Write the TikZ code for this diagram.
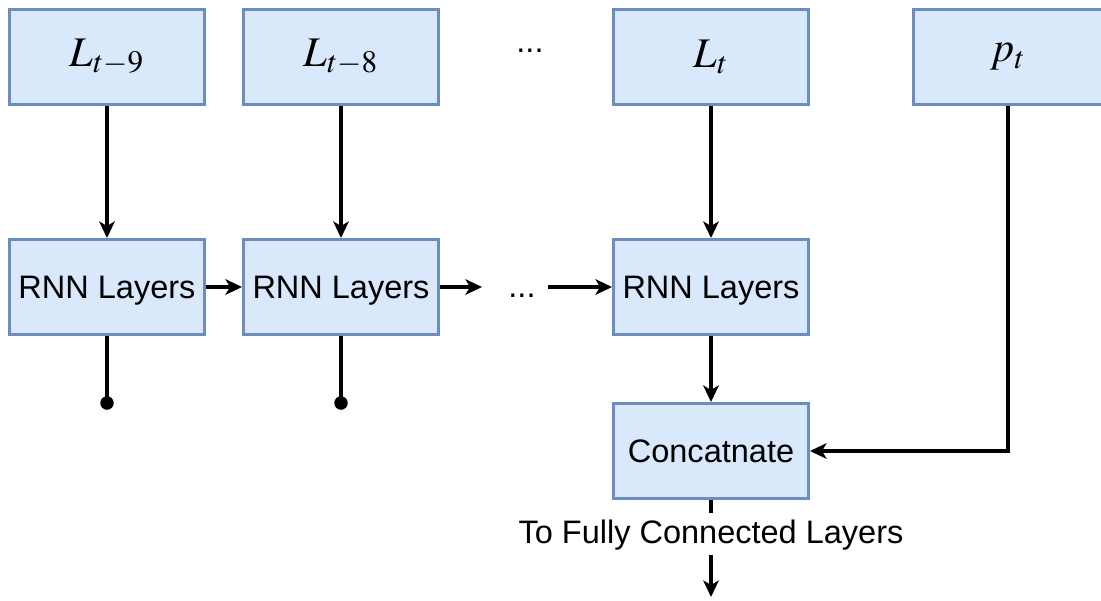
\documentclass[tikz,border=0pt]{standalone}
\usepackage{mathptmx}
\usepackage[no-math]{fontspec}
\setmainfont{Liberation Sans}
\usetikzlibrary{arrows.meta}

\definecolor{boxfill}{HTML}{DAE8FC}
\definecolor{boxline}{HTML}{6C8EBF}

\tikzset{
  block/.style={draw=boxline, fill=boxfill, line width=1.7pt,
    minimum width=3.9cm, minimum height=1.9cm, inner sep=0pt,
    text height=13pt, text depth=0pt,
    font=\fontsize{18.5}{22}\selectfont},
  mathblock/.style={block, text height=, text depth=, font=\fontsize{24}{28}\selectfont},
  conn/.style={line width=1.8pt, -{Stealth[length=0.33cm, width=0.31cm, inset=0.09cm]}},
  plain/.style={line width=1.8pt},
  tapdot/.style={circle, fill=black, inner sep=0pt, minimum size=0.27cm},
  txt/.style={font=\fontsize{18.5}{22}\selectfont, inner sep=0pt}
}

\begin{document}
\begin{tikzpicture}[x=0.02cm, y=-0.02cm]
  \useasboundingbox (0,0) rectangle (1101,600);

  % input sequence
  \node[mathblock] (L9) at (107,57) {$L_{t-9}$};
  \node[mathblock] (L8) at (341,57) {$L_{t-8}$};
  \node[txt, anchor=base] (topdots) at (530,52) {...};
  \node[mathblock] (L0) at (711,57) {$L_t$};
  \node[mathblock, minimum width=3.8cm] (P) at (1008,57) {$p_t$};

  % recurrent layers
  \node[block] (R9) at (107,287) {RNN Layers};
  \node[block] (R8) at (341,287) {RNN Layers};
  \node[txt, anchor=base] (middots) at (522,297) {...};
  \node[block] (R0) at (711,287) {RNN Layers};

  \coordinate (gapL) at (482,287);
  \coordinate (gapR) at (548,287);

  % unused outputs
  \node[tapdot] (D9) at (107,403) {};
  \node[tapdot] (D8) at (341,403) {};

  % merge
  \node[block] (C) at (711,451) {Concatnate};
  \node[txt, anchor=base, text height=0.6cm, text depth=0.24cm] (lbl) at (711,543) {To Fully Connected Layers};
  \coordinate (out) at (711,597);

  % connectors
  \draw[conn] (L9.south) -- (R9.north);
  \draw[conn] (L8.south) -- (R8.north);
  \draw[conn] (L0.south) -- (R0.north);
  \draw[conn] (R9.east) -- (R8.west);
  \draw[conn] (R8.east) -- (gapL);
  \draw[conn] (gapR) -- (R0.west);
  \draw[plain] (R9.south) -- (D9.center);
  \draw[plain] (R8.south) -- (D8.center);
  \draw[conn] (R0.south) -- (C.north);
  \draw[conn] (P.south) |- (C.east);
  \draw[plain] (C.south) -- (lbl.north);
  \draw[conn] (lbl.south) -- (out);
\end{tikzpicture}
\end{document}
